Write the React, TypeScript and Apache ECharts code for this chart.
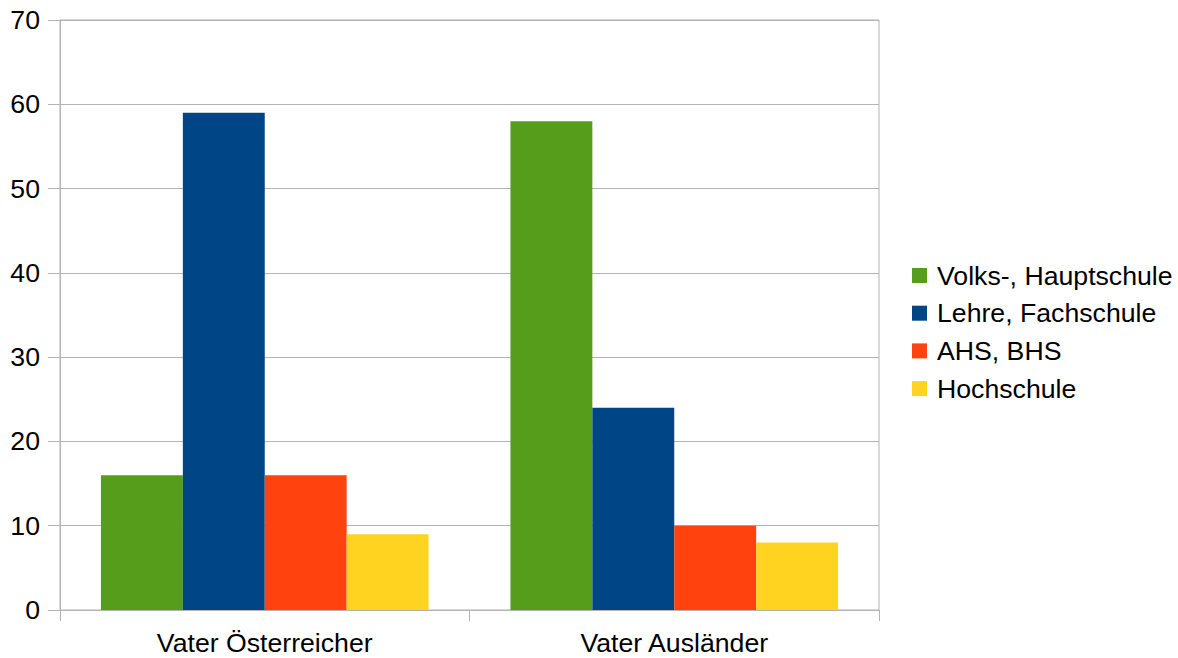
import React, { useEffect, useRef } from "react";
import * as echarts from "echarts";

const categories = ["Vater Österreicher", "Vater Ausländer"];
const seriesNames = ["Volks-, Hauptschule", "Lehre, Fachschule", "AHS, BHS", "Hochschule"];
const volksHaupt = [16, 58];
const lehreFach = [59, 24];
const ahsBhs = [16, 10];
const hochschule = [9, 8];
const colors = ["#579d1c", "#004586", "#ff420e", "#ffd320"];

export default function App() {
  const ref = useRef<HTMLDivElement>(null);
  useEffect(() => {
    if (!ref.current) return;
    const chart = echarts.init(ref.current, undefined, { renderer: "svg" });
    const values = [volksHaupt, lehreFach, ahsBhs, hochschule];
    const font = "'Liberation Sans', Arial, sans-serif";
    const fs = 26.67;
    chart.setOption({
      animation: false,
      color: colors,
      grid: {
        left: 60,
        top: 20,
        right: 299,
        bottom: 48,
        show: true,
        borderColor: "#b3b3b3",
        borderWidth: 1,
        containLabel: false,
      },
      legend: {
        orient: "vertical",
        left: 907,
        top: 257,
        itemWidth: 15,
        itemHeight: 15,
        itemGap: 10.7,
        icon: "rect",
        textStyle: { fontFamily: font, fontSize: fs, color: "#000", padding: [0, 0, 0, 5] },
        data: seriesNames,
      },
      xAxis: {
        type: "category",
        data: categories,
        boundaryGap: true,
        axisLine: { lineStyle: { color: "#b3b3b3", width: 1 } },
        axisTick: { show: true, length: 11, alignWithLabel: false, lineStyle: { color: "#b3b3b3" } },
        axisLabel: { fontFamily: font, fontSize: fs, color: "#000", margin: 19 },
        splitLine: { show: false },
      },
      yAxis: {
        type: "value",
        min: 0,
        max: 70,
        interval: 10,
        axisLine: { show: true, lineStyle: { color: "#b3b3b3", width: 1 } },
        axisTick: { show: true, length: 12, lineStyle: { color: "#b3b3b3" } },
        axisLabel: { fontFamily: font, fontSize: fs, color: "#000", margin: 20 },
        splitLine: { show: true, lineStyle: { color: "#b3b3b3", width: 1 } },
      },
      series: seriesNames.map((name, i) => ({
        name,
        type: "bar",
        data: values[i],
        barGap: "0%",
        barCategoryGap: "20%",
        itemStyle: { color: colors[i] },
      })),
    });
    return () => chart.dispose();
  }, []);
  return (
    <div
      ref={ref}
      style={{ position: "fixed", left: 0, top: 0, width: 1178, height: 658, background: "#fff" }}
    />
  );
}
